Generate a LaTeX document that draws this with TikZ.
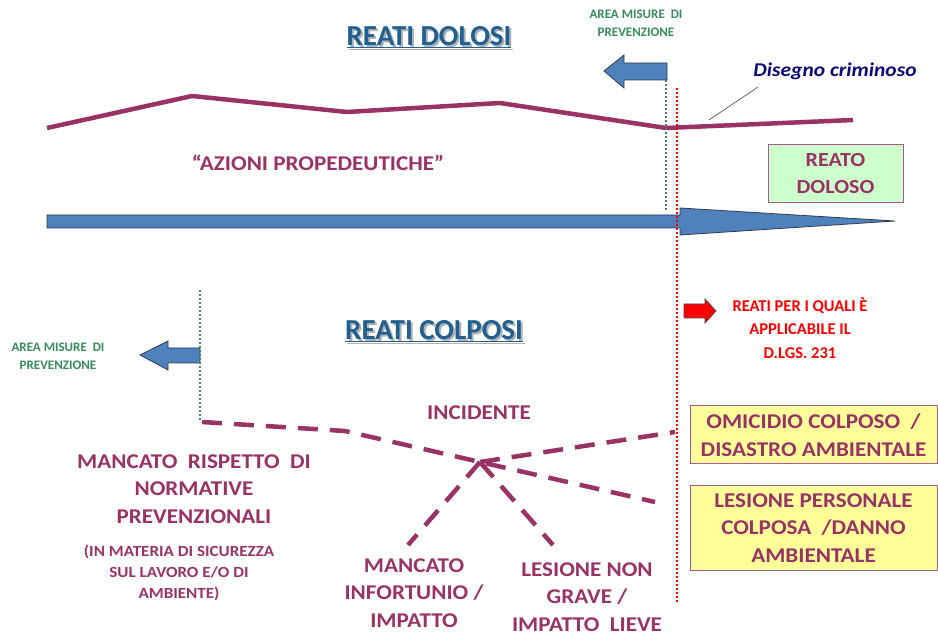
\documentclass[tikz,border=0pt]{standalone}
\usepackage{fontspec}
\setmainfont{Carlito}
\newfontfamily\widefont{Carlito}[FakeStretch=1.1]
\usetikzlibrary{calc}
\definecolor{purp}{RGB}{153,51,102}
\definecolor{titblue}{RGB}{31,95,145}
\definecolor{grn}{RGB}{55,140,90}
\definecolor{abl}{RGB}{79,129,189}
\definecolor{abord}{RGB}{50,60,80}
\definecolor{navy}{RGB}{10,10,120}
\definecolor{boxgreen}{RGB}{204,255,204}
\definecolor{boxyel}{RGB}{255,255,153}
\definecolor{boxbord}{RGB}{170,90,140}
\newcommand{\shtitle}[1]{\makebox[0pt][l]{\raisebox{-2pt}{\hspace{2pt}\textcolor{black!30}{\underline{#1}}}}\underline{#1}}
\tikzset{
  ptext/.style={text=purp,font=\widefont\bfseries\fontsize{21}{27.5}\selectfont,align=center,inner sep=0pt},
  stext/.style={text=purp,font=\widefont\bfseries\fontsize{15.5}{21}\selectfont,align=center,inner sep=0pt},
  gtext/.style={text=grn,font=\bfseries\fontsize{13}{18}\selectfont,align=center,inner sep=0pt},
  rtext/.style={text=red,font=\bfseries\fontsize{16.5}{23.5}\selectfont,align=center,inner sep=0pt},
  title/.style={text=titblue,font=\bfseries\fontsize{29}{32}\selectfont,inner sep=0pt},
  boxg/.style={draw=boxbord,line width=1pt,fill=boxgreen,text=purp,font=\widefont\bfseries\fontsize{20}{27}\selectfont,align=center,minimum width=135pt,minimum height=58pt,inner sep=0pt},
  boxy/.style={draw=boxbord,line width=1pt,fill=boxyel,text=purp,font=\widefont\bfseries\fontsize{21}{27.5}\selectfont,align=center,minimum width=247pt,inner sep=0pt},
  pline/.style={draw=purp,line width=4.5pt,line join=round},
  dline/.style={draw=purp,line width=4.5pt,dash pattern=on 20pt off 12pt},
  gdot/.style={draw=grn,line width=2pt,dash pattern=on 2pt off 2pt},
  rdot/.style={draw=red,line width=2pt,dash pattern=on 2pt off 2pt},
  barrow/.style={fill=abl,draw=abord,line width=0.8pt,line join=miter},
}
\begin{document}
\begin{tikzpicture}[x=1pt,y=-1pt]
\useasboundingbox (0,0) rectangle (938,636);
\fill[white] (0,0) rectangle (938,636);

% ---------- REATI DOLOSI ----------
\node[title] (td) at (429,38) {\shtitle{REATI DOLOSI}};
\node[gtext] (area1) at (636,23) {AREA MISURE \ DI\\PREVENZIONE};

% big blue arrow
\draw[barrow] (47,215) -- (680,215) -- (680,208) -- (895,221) -- (680,235) -- (680,228) -- (47,228) -- cycle;

% small blue left arrow (top)
\draw[barrow] (667,63) -- (624,63) -- (624,55) -- (604,71) -- (624,88) -- (624,80) -- (667,80) -- cycle;

% purple path
\coordinate (p1) at (47,128);
\coordinate (p2) at (192,96);
\coordinate (p3) at (347,112);
\coordinate (p4) at (500,103);
\coordinate (p5) at (666,128);
\coordinate (p6) at (853,120);
\draw[pline] (p1) -- (p2) -- (p3) -- (p4) -- (p5) -- (p6);

% dotted lines
\coordinate (g1a) at (666,80);
\coordinate (g1b) at (666,210);
\draw[gdot] (g1a) -- (g1b);
\coordinate (r1a) at (677,88);
\coordinate (r1b) at (677,602);
\draw[rdot] (r1a) -- (r1b);

\node[text=navy,font=\widefont\bfseries\itshape\fontsize{19.5}{22}\selectfont,inner sep=0pt] (dis) at (835,71) {Disegno criminoso};
\coordinate (disp) at (709,120);
\coordinate (disq) at (758,87);
\draw[black!60,line width=0.8pt] (disp) -- (disq);

\node[ptext] (azioni) at (318,163) {“AZIONI PROPEDEUTICHE”};
\node[boxg] (reato) at (835.5,174) {REATO\\DOLOSO};

% ---------- REATI COLPOSI ----------
\node[title] (tc) at (434,332) {\shtitle{REATI COLPOSI}};

\node[gtext] (area2) at (58,356) {AREA MISURE \ DI\\PREVENZIONE};
\draw[barrow] (200,348) -- (168,348) -- (168,341) -- (140,355) -- (168,370) -- (168,363) -- (200,363) -- cycle;
\coordinate (g2a) at (200,290);
\coordinate (g2b) at (200,422);
\draw[gdot] (g2a) -- (g2b);

% red arrow
\draw[fill=red,draw=black!70,line width=0.8pt] (684,304) -- (705,304) -- (705,299) -- (716,311) -- (705,323) -- (705,318) -- (684,318) -- cycle;
\node[rtext] (r231) at (800,328) {REATI PER I QUALI È\\APPLICABILE IL\\D.LGS. 231};

\node[ptext] (incid) at (479,413) {INCIDENTE};

% dashed lines
\coordinate (d1) at (202,422);
\coordinate (d2) at (345,431);
\coordinate (dx) at (480,462);
\coordinate (d3) at (655,502);
\coordinate (d4) at (675,432);
\coordinate (d5) at (408,545);
\coordinate (d6) at (553,545);
\draw[dline] (d1) -- (d2) -- (dx) -- (d3);
\draw[dline] (dx) -- (d4);
\draw[dline] (dx) -- (d5);
\draw[dline] (dx) -- (d6);

\node[ptext] (mancato) at (194,489) {MANCATO \ RISPETTO \ DI\\NORMATIVE\\PREVENZIONALI};
\node[stext] (materia) at (179,573) {(IN MATERIA DI SICUREZZA\\SUL LAVORO E/O DI\\AMBIENTE)};
\node[ptext] (infort) at (414,593) {MANCATO\\INFORTUNIO /\\IMPATTO};
\node[ptext] (lesnon) at (587,597) {LESIONE NON\\GRAVE /\\IMPATTO \ LIEVE};

\node[boxy,minimum height=58pt] (omic) at (813.5,435) {OMICIDIO COLPOSO \ /\\DISASTRO AMBIENTALE};
\node[boxy,minimum height=84pt] (lesp) at (813.5,528) {LESIONE PERSONALE\\COLPOSA \ /DANNO\\AMBIENTALE};
\end{tikzpicture}
\end{document}
